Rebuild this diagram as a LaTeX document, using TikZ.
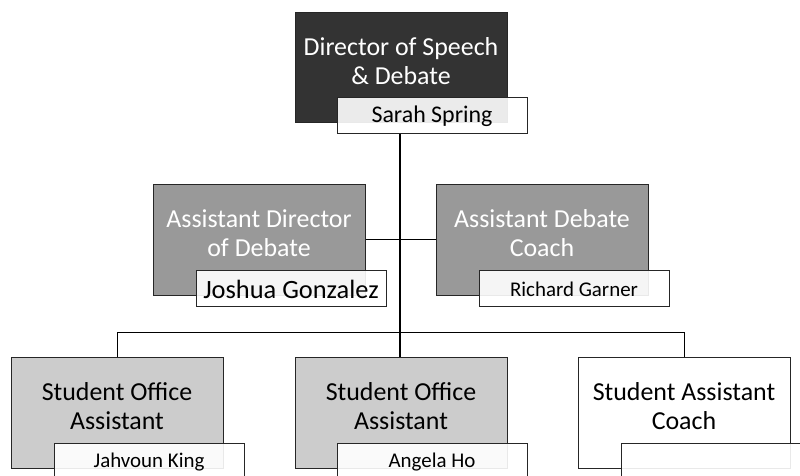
\documentclass[tikz,border=0pt]{standalone}
\usepackage{fontspec}
\setmainfont{Carlito}
\definecolor{darkfill}{HTML}{333333}
\definecolor{midfill}{HTML}{999999}
\definecolor{lightfill}{HTML}{CCCCCC}
\definecolor{edgecol}{HTML}{262626}
\begin{document}
\begin{tikzpicture}[x=1bp,y=-1bp,
  box/.style={draw=edgecol, line width=1bp, rectangle, inner sep=0pt, anchor=north west,
              minimum width=212bp, minimum height=110bp},
  namebox/.style={draw=edgecol, line width=1bp, rectangle, fill=white, fill opacity=0.9,
              text opacity=1, inner sep=0pt, anchor=north west,
              minimum width=190bp, minimum height=36bp, text=black},
  titletext/.style={align=center, font=\fontsize{26}{29}\selectfont, yshift=6.5bp},
  link/.style={draw=black, line width=1bp},
  mainlink/.style={draw=black, line width=2bp}]
\clip (0,0) rectangle (800,476);
\fill[white] (0,0) rectangle (800,476);

% boxes
\node[box, fill=darkfill, label={[titletext, text=white]center:{Director of Speech\\\& Debate}}] (top) at (294.5,12.5) {};
\node[box, fill=midfill, label={[titletext, text=white]center:{Assistant Director\\of Debate}}] (ad) at (152.5,184.5) {};
\node[box, fill=midfill, label={[titletext, text=white]center:{Assistant Debate\\Coach}}] (adc) at (435.5,184.5) {};
\node[box, fill=lightfill, label={[titletext, text=black]center:{Student Office\\Assistant}}] (soa) at (10.5,357.5) {};
\node[box, fill=lightfill, label={[titletext, text=black]center:{Student Office\\Assistant}}] (sob) at (294.5,357.5) {};
\node[box, fill=white, label={[titletext, text=black]center:{Student Assistant\\Coach}}] (sac) at (577.5,357.5) {};

% name boxes
\node[namebox, font=\fontsize{24}{26}\selectfont] (topname) at (336.5,97.5) {Sarah Spring};
\node[namebox, font=\fontsize{26.5}{28}\selectfont] (adname) at (195.5,270.5) {Joshua Gonzalez};
\node[namebox, font=\fontsize{21}{23}\selectfont] (adcname) at (478.5,270.5) {Richard Garner};
\node[namebox, font=\fontsize{21}{23}\selectfont, minimum height=38bp] (soaname) at (53.5,442.5) {Jahvoun King};
\node[namebox, font=\fontsize{21}{23}\selectfont, minimum height=38bp] (sobname) at (336.5,442.5) {Angela Ho};
\node[namebox, font=\fontsize{21}{23}\selectfont, minimum height=38bp] (sacname) at (620.5,442.5) {};

% connectors
\coordinate (bus) at (400,332.5);
\draw[mainlink] (bus |- topname.south) -- (bus |- sob.north);
\draw[link] (ad.east) -- (adc.west);
\draw[link] (soa.north) |- (bus) -| (sac.north);
\end{tikzpicture}
\end{document}
